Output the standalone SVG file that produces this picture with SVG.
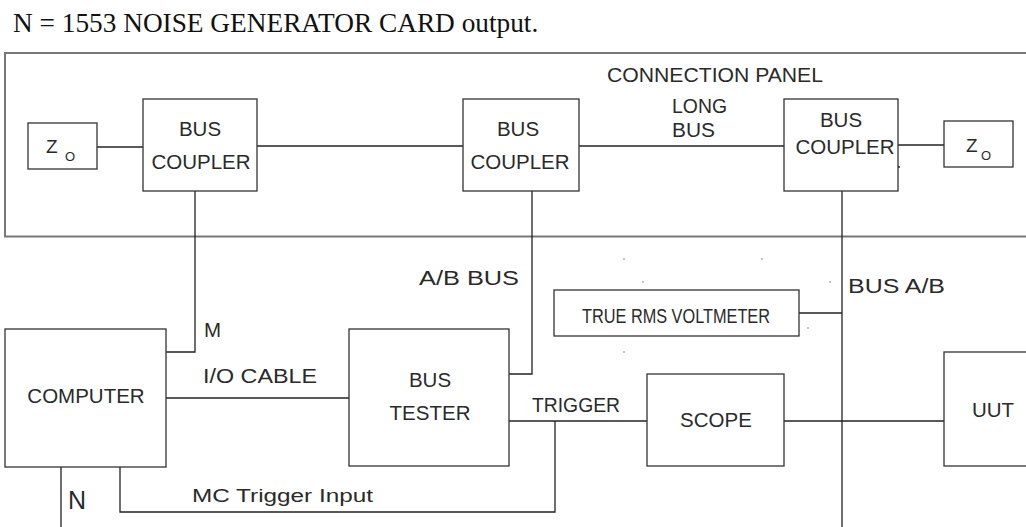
<svg xmlns="http://www.w3.org/2000/svg" width="1026" height="527" viewBox="0 0 1026 527">
<style>
.bx{fill:none;stroke:#333;stroke-width:1.3}
.pn{fill:none;stroke:#777;stroke-width:2}
.ln{fill:none;stroke:#222;stroke-width:1.3}
.t{font-family:"Liberation Sans",Arial,sans-serif;font-size:20.5px;fill:#2a2a2a}
.c{text-anchor:middle}
.dot{fill:#777}
</style>
<rect width="1026" height="527" fill="#fff"/>
<text x="13" y="32" style="font-family:'Liberation Serif','Times New Roman',serif;font-size:27.3px;fill:#111">N = 1553 NOISE GENERATOR CARD output.</text>
<g id="panel">
<path class="pn" d="M1030,53 H5 V236.5 H1030"/>
<text class="t" x="607" y="82" textLength="216" lengthAdjust="spacingAndGlyphs">CONNECTION PANEL</text>
</g>
<g id="connectors">
<path class="ln" d="M97,147 H143"/>
<path class="ln" d="M257,146 H463"/>
<path class="ln" d="M579,146 H784"/>
<path class="ln" d="M898,145 H944"/>
<path class="ln" d="M898,167 H900"/>
<path class="ln" d="M195,191 V352 H166"/>
<path class="ln" d="M532,191 V374 H509"/>
<path class="ln" d="M842,191 V527"/>
<path class="ln" d="M166,398 H349"/>
<path class="ln" d="M61,467 V527"/>
<path class="ln" d="M120,467 V512 H555 V421"/>
<path class="ln" d="M509,421 H647"/>
<path class="ln" d="M784,421 H944"/>
<path class="ln" d="M799,313 H842"/>
<text class="t" x="672" y="113" textLength="55" lengthAdjust="spacingAndGlyphs">LONG</text>
<text class="t" x="672" y="137" textLength="43" lengthAdjust="spacingAndGlyphs">BUS</text>
<text class="t" x="204" y="337">M</text>
<text class="t" x="203" y="383" textLength="114" lengthAdjust="spacingAndGlyphs">I/O CABLE</text>
<text class="t" x="419" y="285" textLength="100" lengthAdjust="spacingAndGlyphs">A/B BUS</text>
<text class="t" x="532" y="412" textLength="88" lengthAdjust="spacingAndGlyphs">TRIGGER</text>
<text class="t" x="848" y="293" textLength="97" lengthAdjust="spacingAndGlyphs">BUS A/B</text>
<text class="t" x="192" y="502" style="font-size:18px" textLength="181" lengthAdjust="spacingAndGlyphs">MC Trigger Input</text>
<text class="t" x="68" y="509" style="font-size:25px">N</text>
</g>
<g id="z0-left">
<rect class="bx" x="28" y="123" width="69" height="46"/>
<text class="t" x="46" y="153" style="font-size:19px">Z</text>
<text class="t" x="65" y="161" style="font-size:13px">O</text>
</g>
<g id="coupler-left">
<rect class="bx" x="143" y="99" width="114" height="92"/>
<text class="t c" x="200" y="136">BUS</text>
<text class="t c" x="201" y="169">COUPLER</text>
</g>
<g id="coupler-mid">
<rect class="bx" x="463" y="99" width="116" height="92"/>
<text class="t c" x="518" y="136">BUS</text>
<text class="t c" x="520" y="169">COUPLER</text>
</g>
<g id="coupler-right">
<rect class="bx" x="784" y="99" width="114" height="92"/>
<text class="t c" x="841" y="127">BUS</text>
<text class="t c" x="845" y="154">COUPLER</text>
</g>
<g id="z0-right">
<rect class="bx" x="944" y="121" width="69" height="46"/>
<text class="t" x="966" y="152" style="font-size:19px">Z</text>
<text class="t" x="981" y="160" style="font-size:13px">O</text>
</g>
<g id="computer">
<rect class="bx" x="5" y="329" width="161" height="138"/>
<text class="t c" x="86" y="403">COMPUTER</text>
</g>
<g id="bus-tester">
<rect class="bx" x="349" y="329" width="160" height="137"/>
<text class="t c" x="430" y="387">BUS</text>
<text class="t c" x="430" y="420">TESTER</text>
</g>
<g id="voltmeter">
<rect class="bx" x="554" y="290" width="245" height="46"/>
<text class="t" x="582" y="323" textLength="188" lengthAdjust="spacingAndGlyphs">TRUE RMS VOLTMETER</text>
</g>
<g id="scope">
<rect class="bx" x="647" y="374" width="137" height="92"/>
<text class="t c" x="716" y="427">SCOPE</text>
</g>
<g id="uut">
<rect class="bx" x="944" y="352" width="90" height="114"/>
<text class="t" x="972" y="417">UUT</text>
</g>
<g id="dots">
<circle class="dot" cx="624" cy="259" r="0.8"/>
<circle class="dot" cx="762" cy="259" r="0.8"/>
<circle class="dot" cx="643" cy="282" r="0.8"/>
<circle class="dot" cx="830" cy="282" r="0.8"/>
<circle class="dot" cx="808" cy="328" r="0.8"/>
<circle class="dot" cx="624" cy="352" r="0.8"/>
</g>
</svg>
